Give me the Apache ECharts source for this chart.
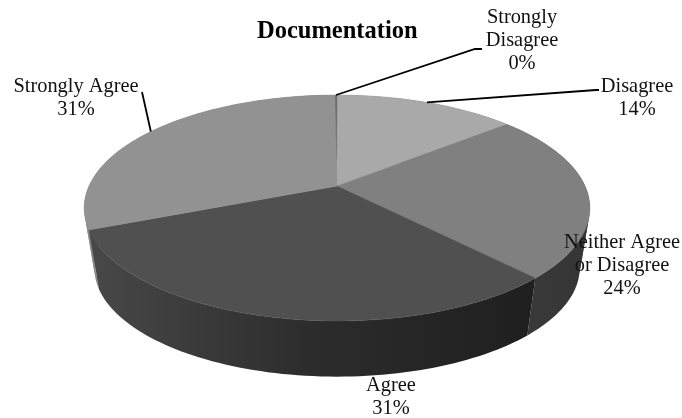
<!DOCTYPE html>
<html>
<head>
<meta charset="utf-8">
<style>html,body{margin:0;padding:0;background:#fff}#chart{width:682px;height:418px}</style>
<script src="https://cdn.jsdelivr.net/npm/echarts@6/dist/echarts.min.js"></script>
</head>
<body>
<div id="chart"></div>
<script>
// Survey responses for the "Documentation" question, in percent.
const categories = ['Strongly\nDisagree', 'Disagree', 'Neither Agree\nor Disagree', 'Agree', 'Strongly Agree'];
const responses = [0.2, 14, 24, 31, 31];

// Grey shades per slice; wall shades run left to right across the page.
const topColors = ['#6a6a6a', '#a9a9a9', '#808080', '#505050', '#929292'];
const wallShades = [
  ['#666666', '#666666'],
  ['#666666', '#666666'],
  ['#3a3a3a', '#353535'],
  ['#484848', '#2c2c2c', '#1f1f1f'],
  ['#8a8a8a', '#6e6e6e']
];
// Paint order of the walls: later slices on the left sit behind the front ones.
const wallLayer = [1, 1, 2, 3, 0];

// Top centre of each label block and optional leader elbow points.
const labelCentres = [[522, 6], [637, 75], [622, 231], [391, 374], [76, 75]];
const leaderPoints = [[[475, 49], [482, 49]], [[596, 90], [599, 90]], null, null, [[142, 92]]];

// Perspective tilted disc: a unit circle projected on the page.
const view = { cx: 337, tilt: 0.1947, startDeg: -0.6 };
const topPlane = { cy: 186, rx: 248, ry: 108.7 };
const basePlane = { cy: 247, rx: 238, ry: 104.4 };
const ARC_STEP = 1.5;

const total = responses.reduce((a, b) => a + b, 0);

function project(plane, deg) {
  const t = deg * Math.PI / 180;
  const X = Math.sin(t), Y = Math.cos(t);
  const s = 1 / (1 + view.tilt * Y);
  return [view.cx + plane.rx * X * s, plane.cy - plane.ry * Y * s];
}
function sliceRange(i) {
  let before = 0;
  for (let k = 0; k < i; k++) before += responses[k];
  const a = view.startDeg + before / total * 360;
  return [a, a + responses[i] / total * 360];
}
function arcAngles(a, b) {
  const out = [];
  for (let d = a; d < b; d += ARC_STEP) out.push(d);
  out.push(b);
  return out;
}
function quadSign(d0, d1) {
  const q = [project(topPlane, d0), project(topPlane, d1), project(basePlane, d1), project(basePlane, d0)];
  let area = 0;
  for (let k = 0; k < 4; k++) {
    const p = q[k], n = q[(k + 1) % 4];
    area += p[0] * n[1] - n[0] * p[1];
  }
  return area >= 0 ? 1 : -1;
}

// Side wall of one slice. The arc is split where the wall turns away from the
// viewer, so each run is a simple polygon and the silhouette fills solidly.
function renderWall(params) {
  const i = params.dataIndex;
  const [a, b] = sliceRange(i);
  const angles = arcAngles(a, b);
  const runs = [];
  let run = [angles[0]], sign = null;
  for (let k = 0; k + 1 < angles.length; k++) {
    const sg = quadSign(angles[k], angles[k + 1]);
    if (sign !== null && sg !== sign) { runs.push(run); run = [angles[k]]; }
    run.push(angles[k + 1]);
    sign = sg;
  }
  runs.push(run);

  const shades = wallShades[i];
  const allX = angles.map(d => project(topPlane, d)[0]);
  const fill = new echarts.graphic.LinearGradient(
    Math.min.apply(null, allX), 0, Math.max.apply(null, allX), 0,
    shades.map((c, k) => ({ offset: k / (shades.length - 1), color: c })), true);
  return {
    type: 'group',
    children: runs.map(r => ({
      type: 'polygon',
      z2: wallLayer[i],
      shape: {
        points: r.map(d => project(topPlane, d))
          .concat(r.slice().reverse().map(d => project(basePlane, d)))
      },
      style: { fill: fill, stroke: null }
    }))
  };
}

// Top face of one slice.
function renderTop(params) {
  const i = params.dataIndex;
  const [a, b] = sliceRange(i);
  const pts = arcAngles(a, b).map(d => project(topPlane, d));
  pts.push([view.cx, topPlane.cy]);
  return {
    type: 'polygon',
    shape: { points: pts },
    style: { fill: topColors[i], stroke: topColors[i], lineWidth: 0.5 }
  };
}

// Category label with its percentage and leader line.
function renderLabel(params) {
  const i = params.dataIndex;
  const [a, b] = sliceRange(i);
  const children = [];
  if (leaderPoints[i]) {
    const anchor = project(topPlane, (a + b) / 2);
    children.push({
      type: 'polyline',
      shape: { points: [anchor].concat(leaderPoints[i]) },
      style: { fill: null, stroke: '#000', lineWidth: 1.8 }
    });
  }
  children.push({
    type: 'text',
    style: {
      text: categories[i] + '\n' + Math.round(responses[i] / total * 100) + '%',
      x: labelCentres[i][0], y: labelCentres[i][1],
      fill: '#111', font: '20.4px "Liberation Serif", serif',
      align: 'center', verticalAlign: 'top', lineHeight: 23
    }
  });
  return { type: 'group', children };
}

const rows = responses.map((v, i) => ({ name: categories[i], value: v }));
const chart = echarts.init(document.getElementById('chart'), null, { renderer: 'canvas' });
chart.setOption({
  animation: false,
  backgroundColor: '#fff',
  title: {
    text: 'Documentation', left: 257, top: 19, padding: 0,
    textStyle: { fontFamily: '"Liberation Serif", serif', fontWeight: 'bold', fontSize: 24.5, color: '#000' }
  },
  series: [
    { type: 'custom', coordinateSystem: 'none', renderItem: renderWall, data: rows, z: 1, silent: true, clip: false },
    { type: 'custom', coordinateSystem: 'none', renderItem: renderTop, data: rows, z: 2, silent: true, clip: false },
    { type: 'custom', coordinateSystem: 'none', renderItem: renderLabel, data: rows, z: 3, silent: true, clip: false }
  ]
});
</script>
</body>
</html>
